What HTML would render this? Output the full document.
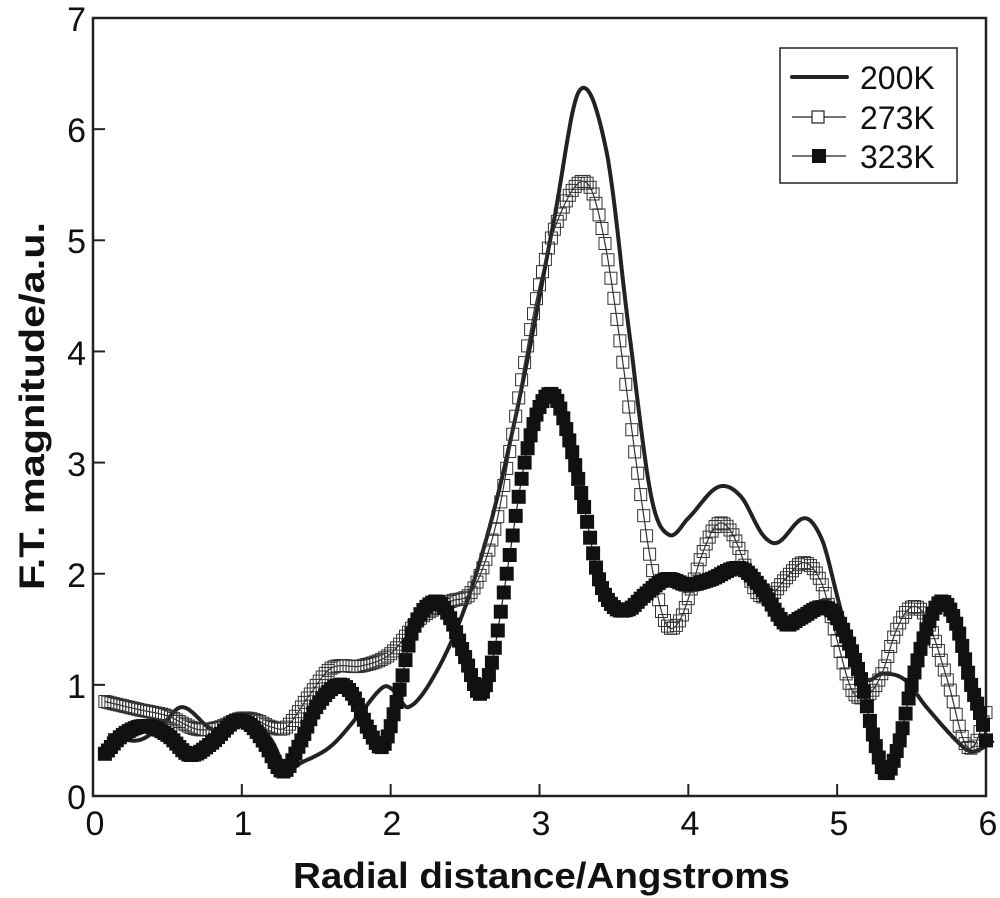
<!DOCTYPE html><html><head><style>body{margin:0;background:#fff}svg{display:block}text{font-family:"Liberation Sans",Arial,sans-serif;fill:#111}</style></head><body>
<svg id="s" width="1000" height="898" xmlns="http://www.w3.org/2000/svg">
<rect x="93" y="18" width="893" height="778" fill="none" stroke="#222" stroke-width="2.5"/>
<g id="ticks" stroke="#222" stroke-width="2"></g>
<g font-size="34" text-anchor="middle">
<text x="95" y="835">0</text><text x="243" y="835">1</text><text x="392" y="835">2</text><text x="541" y="835">3</text><text x="690" y="835">4</text><text x="839" y="835">5</text><text x="988" y="835">6</text>
</g>
<g font-size="34" text-anchor="end">
<text x="86" y="809">0</text><text x="86" y="698">1</text><text x="86" y="587">2</text><text x="86" y="476">3</text><text x="86" y="365">4</text><text x="86" y="253">5</text><text x="86" y="142">6</text><text x="86" y="31">7</text>
</g>
<text x="293" y="888" font-size="36" font-weight="bold" textLength="497" lengthAdjust="spacingAndGlyphs">Radial distance/Angstroms</text>
<text transform="translate(44,590) rotate(-90)" font-size="35" font-weight="bold" textLength="368" lengthAdjust="spacingAndGlyphs">F.T. magnitude/a.u.</text>
<g id="data"></g>
<rect x="780" y="48" width="177" height="135" fill="#fff" stroke="#222" stroke-width="1.5"/>
<line x1="792" y1="77" x2="847" y2="77" stroke="#222" stroke-width="4" stroke-linecap="round"/>
<line x1="792" y1="117" x2="846" y2="117" stroke="#222" stroke-width="1.2"/>
<rect x="812" y="111" width="12" height="12" fill="#fff" stroke="#222" stroke-width="1.2"/>
<line x1="792" y1="156" x2="846" y2="156" stroke="#222" stroke-width="1.2"/>
<rect x="812" y="149" width="14" height="14" fill="#111"/>
<g font-size="32"><text x="860" y="89">200K</text><text x="860" y="129">273K</text><text x="860" y="168">323K</text></g>
</svg>
<script>
const X=x=>93+x*148.83,Y=y=>796-y*111.14;
let t='';for(let i=0;i<=6;i++)t+=`<line x1="${X(i)}" y1="796" x2="${X(i)}" y2="784"/>`;
for(let j=1;j<=6;j++)t+=`<line x1="93" y1="${Y(j)}" x2="105" y2="${Y(j)}"/>`;
document.getElementById('ticks').innerHTML=t;
function cr(p,x){let i=0;while(i<p.length-2&&p[i+1][0]<x)i++;
const p0=p[Math.max(i-1,0)],p1=p[i],p2=p[i+1],p3=p[Math.min(i+2,p.length-1)];
const u=(x-p1[0])/(p2[0]-p1[0]);const m1=(p2[1]-p0[1])/(p2[0]-p0[0]||1)*(p2[0]-p1[0]),m2=(p3[1]-p1[1])/(p3[0]-p1[0]||1)*(p2[0]-p1[0]);
const u2=u*u,u3=u2*u;return (2*u3-3*u2+1)*p1[1]+(u3-2*u2+u)*m1+(-2*u3+3*u2)*p2[1]+(u3-u2)*m2;}
const a=[[0.1,0.55],[0.3,0.5],[0.45,0.62],[0.6,0.8],[0.8,0.6],[0.95,0.62],[1.1,0.65],[1.2,0.5],[1.3,0.25],[1.4,0.3],[1.6,0.45],[1.8,0.75],[1.95,0.98],[2.02,0.95],[2.12,0.8],[2.3,1.1],[2.5,1.7],[2.7,2.6],[2.9,3.8],[3.1,5.2],[3.27,6.35],[3.45,5.8],[3.6,4.2],[3.75,2.7],[3.87,2.35],[4.0,2.5],[4.2,2.78],[4.35,2.7],[4.5,2.35],[4.6,2.28],[4.78,2.5],[4.9,2.3],[5.0,1.8],[5.1,1.3],[5.2,1.05],[5.3,1.1],[5.45,1.05],[5.6,0.8],[5.8,0.5],[5.9,0.4],[6.0,0.45],[6.05,0.5]];
const b=[[0.08,0.85],[0.3,0.78],[0.5,0.72],[0.7,0.6],[0.85,0.62],[1.0,0.7],[1.1,0.68],[1.2,0.62],[1.3,0.62],[1.45,0.9],[1.6,1.15],[1.8,1.17],[2.0,1.28],[2.2,1.6],[2.4,1.75],[2.55,1.85],[2.7,2.4],[2.8,3.1],[2.9,3.9],[3.0,4.6],[3.1,5.1],[3.25,5.5],[3.35,5.45],[3.45,4.9],[3.55,4.0],[3.65,3.0],[3.75,2.1],[3.85,1.55],[3.95,1.6],[4.1,2.2],[4.2,2.45],[4.3,2.35],[4.45,1.85],[4.55,1.8],[4.65,1.95],[4.78,2.1],[4.9,1.9],[5.0,1.4],[5.1,0.95],[5.2,0.9],[5.3,1.1],[5.4,1.5],[5.5,1.7],[5.6,1.6],[5.75,1.0],[5.85,0.5],[5.92,0.45],[6.0,0.75]];
const c=[[0.08,0.38],[0.2,0.55],[0.35,0.63],[0.5,0.55],[0.65,0.37],[0.8,0.48],[0.95,0.67],[1.05,0.65],[1.15,0.48],[1.28,0.22],[1.4,0.5],[1.5,0.8],[1.65,1.0],[1.75,0.9],[1.85,0.6],[1.95,0.45],[2.05,0.9],[2.15,1.5],[2.3,1.75],[2.4,1.6],[2.5,1.25],[2.6,0.92],[2.68,1.2],[2.78,2.0],[2.9,3.0],[3.0,3.5],[3.1,3.6],[3.2,3.2],[3.3,2.6],[3.4,1.95],[3.5,1.7],[3.6,1.68],[3.7,1.8],[3.85,1.95],[4.0,1.9],[4.15,1.95],[4.35,2.05],[4.5,1.85],[4.65,1.55],[4.75,1.6],[4.9,1.7],[5.0,1.6],[5.15,1.1],[5.25,0.5],[5.33,0.2],[5.42,0.5],[5.5,1.0],[5.6,1.5],[5.7,1.75],[5.8,1.55],[5.9,1.0],[5.97,0.7],[6.0,0.5]];
let h='';
function path(p,x0,x1,st){let d='';for(let x=x0;x<=x1+1e-9;x+=0.01){d+=(d?'L':'M')+X(x).toFixed(1)+','+Y(cr(p,x)).toFixed(1);}return `<path d="${d}" fill="none" ${st}/>`;}
h+=path(a,0.1,6.05,'stroke="#222" stroke-width="4"');
h+=path(b,0.08,6.0,'stroke="#333" stroke-width="1.2"');
for(let x=0.08;x<=6.0;x+=0.02){h+=`<rect x="${(X(x)-6).toFixed(1)}" y="${(Y(cr(b,x))-6).toFixed(1)}" width="12" height="12" fill="none" stroke="#333" stroke-width="1"/>`;}
h+=path(c,0.08,6.0,'stroke="#222" stroke-width="1.2"');
for(let x=0.08;x<=6.0;x+=0.02){h+=`<rect x="${(X(x)-7).toFixed(1)}" y="${(Y(cr(c,x))-7).toFixed(1)}" width="14" height="14" fill="#111"/>`;}
document.getElementById('data').innerHTML=h;
</script>
</body></html>
